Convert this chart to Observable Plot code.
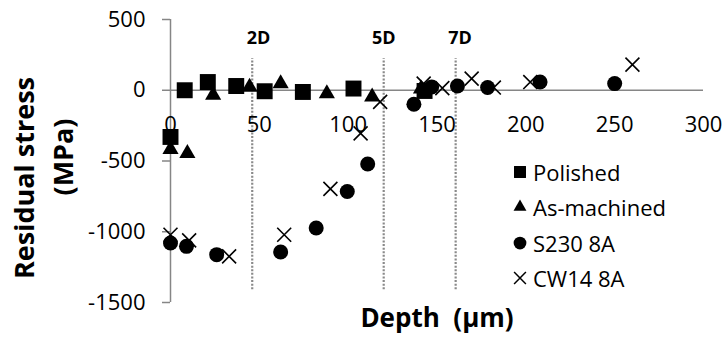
<!DOCTYPE html>
<html><head><meta charset="utf-8">
<script src="https://cdn.jsdelivr.net/npm/d3@7"></script>
<script src="https://cdn.jsdelivr.net/npm/@observablehq/plot@0.6"></script>
<style>
body{margin:0;background:#fff;font-family:"Open Sans",sans-serif;}
#wrap{position:relative;width:725px;height:341px;overflow:hidden;}
#legend{position:absolute;left:508px;top:154px;font-size:22px;color:#000;}
.row{height:35.5px;display:flex;align-items:center;white-space:nowrap;}
.row svg{width:24px;height:24px;margin-right:1px;flex:none;}
</style></head><body><div id="wrap"><div id="chart"></div><div id="legend"></div></div>
<script>
// ---- data ----
const seriesNames = ["Polished", "As-machined", "S230 8A", "CW14 8A"];
const seriesSymbols = ["square", "triangle", "circle", "times"];

const polishedX = [0, 8, 21, 37, 53, 74.5, 103, 143];
const polishedY = [-330, 0, 58, 30, -7, -12, 12, -5];

const asMachinedX = [0, 9.5, 24, 44.5, 62, 88, 113.5, 141];
const asMachinedY = [-418, -446, -35, 23, 47, -23, -47, 10];

const s230X = [0, 9, 26, 62, 82, 99.5, 111, 137, 147, 161.5, 178.5, 208, 250];
const s230Y = [-1080, -1103, -1162, -1143, -974, -716, -521, -99, 23, 30, 19, 58, 47];

const cw14X = [0, 10.5, 33, 64, 90, 107, 118, 142.5, 153, 169.5, 182, 202.5, 260];
const cw14Y = [-1021, -1061, -1174, -1021, -697, -305, -82, 47, 15, 82, 19, 58, 181];

const dividerX = [46, 120, 160.5];
const dividerLabels = ["2D", "5D", "7D"];
const dividerLabelX = [49.5, 120, 163];
const dividerLabelY = 370;
const dividerSpan = [-1410, 225];

const xTicks = [0, 50, 100, 150, 200, 250, 300];
const yTicks = [500, 0, -500, -1000, -1500];
const xDomain = [0, 300];
const yDomain = [-1500, 500];

const xTitle = "Depth\u00a0\u00a0(µm)";
const yTitle1 = "Residual stress";
const yTitle2 = "(MPa)";

// ---- build tables ----
const pts = (xs, ys) => xs.map((x, i) => ({x, y: ys[i]}));
const polished = pts(polishedX, polishedY);
const asMachined = pts(asMachinedX, asMachinedY);
const s230 = pts(s230X, s230Y);
const cw14 = pts(cw14X, cw14Y);
const dividers = dividerLabels.map((t, i) => ({t, x: dividerLabelX[i]}));

const axisGray = "#868686";

const chart = Plot.plot({
  width: 725, height: 341,
  marginLeft: 170, marginRight: 22, marginTop: 19, marginBottom: 39,
  x: {domain: xDomain, axis: null},
  y: {domain: yDomain, axis: null},
  style: {fontFamily: "'Open Sans', sans-serif", fontSize: "22px", background: "white", overflow: "visible", color: "black"},
  marks: [
    Plot.ruleX(dividerX, {x: d => d, y1: dividerSpan[0], y2: dividerSpan[1], stroke: "#8a8a8a", strokeWidth: 2.2, strokeDasharray: "2,1.6"}),
    Plot.ruleX([xDomain[0]], {y1: yDomain[0], y2: yDomain[1], stroke: axisGray, strokeWidth: 1.5}),
    Plot.ruleY([0], {x1: xDomain[0], x2: xDomain[1], stroke: axisGray, strokeWidth: 1.5}),
    Plot.axisY(yTicks, {tickSize: 8, tickPadding: 17, stroke: axisGray, strokeWidth: 1.5, fill: "black", tickFormat: d => String(d), label: null, fontSize: 22}),
    Plot.text(xTicks, {x: d => d, y: 0, dy: 35, text: d => String(d), fontSize: 22, fill: "black"}),
    Plot.text(dividers, {x: "x", y: dividerLabelY, text: "t", fontSize: 18, fontWeight: "bold", fill: "black"}),
    Plot.text([xTitle], {frameAnchor: "bottom", lineAnchor: "middle", textAnchor: "middle", dy: 16, text: d => d, fontSize: 26, fontWeight: "bold", fill: "black"}),
    Plot.text([yTitle1], {frameAnchor: "left", textAnchor: "middle", lineAnchor: "middle", rotate: -90, dx: -145, dy: 17, text: d => d, fontSize: 27, fontWeight: "bold", fill: "black"}),
    Plot.text([yTitle2], {frameAnchor: "left", textAnchor: "middle", lineAnchor: "middle", rotate: -90, dx: -106, dy: -4, text: d => d, fontSize: 27, fontWeight: "bold", fill: "black"}),
    Plot.dot(polished, {x: "x", y: "y", symbol: "square", r: 9, fill: "black"}),
    Plot.dot(asMachined, {x: "x", y: "y", symbol: "triangle", r: 6, fill: "black"}),
    Plot.dot(s230, {x: "x", y: "y", symbol: "circle", r: 7.5, fill: "black"}),
    Plot.dot(cw14, {x: "x", y: "y", symbol: "times", r: 6.4, stroke: "black", strokeWidth: 1.6, fill: "none"})
  ]
});
document.getElementById("chart").appendChild(chart);

// ---- legend ----
const legendR = [9, 6, 7.5, 6.4];
const legend = d3.select("#legend");
seriesNames.forEach((name, i) => {
  const row = legend.append("div").attr("class", "row");
  const svg = row.append("svg").attr("viewBox", "-12 -12 24 24");
  const symType = {square: d3.symbolSquare, triangle: d3.symbolTriangle, circle: d3.symbolCircle, times: d3.symbolTimes}[seriesSymbols[i]];
  const scale = [0.75, 0.8, 0.85, 0.85][i];
  const size = Math.PI * Math.pow(legendR[i] * scale, 2);
  const path = svg.append("path").attr("d", d3.symbol(symType, size)());
  if (seriesSymbols[i] === "times") path.attr("fill", "none").attr("stroke", "black").attr("stroke-width", 1.5);
  else path.attr("fill", "black");
  row.append("span").text(name);
});
</script>
</body></html>
